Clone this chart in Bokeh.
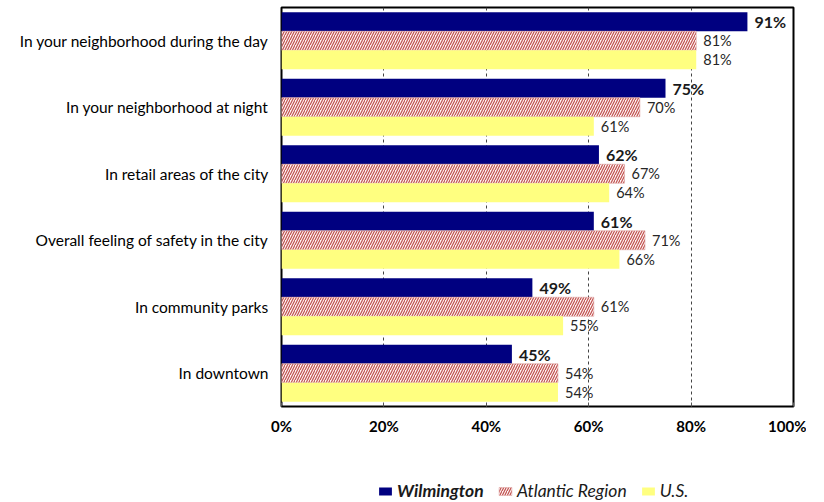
from bokeh.plotting import figure
from bokeh.layouts import column
from bokeh.models import (FactorRange, FixedTicker, PrintfTickFormatter, Legend, LegendItem,
                          ColumnDataSource, Range1d)
from bokeh.transform import dodge
from bokeh.core.properties import value
from bokeh.embed import file_html
from bokeh.resources import INLINE

categories = ["In your neighborhood during the day", "In your neighborhood at night",
              "In retail areas of the city", "Overall feeling of safety in the city",
              "In community parks", "In downtown"]
wilmington = [91, 75, 62, 61, 49, 45]
atlantic = [81, 70, 67, 71, 61, 54]
us = [81, 61, 64, 66, 55, 54]
x_ticks = [0, 20, 40, 60, 80, 100]
series_names = ["Wilmington", "Atlantic Region", "U.S."]

FONT = "Lato"
C_WIL = "#000080"
C_US = "#ffff80"
A_STYLE = dict(fill_color="#fdf3f3", line_color="#e0a8a6", line_width=0.6,
               hatch_pattern="right_diagonal_line", hatch_color="#c0504d",
               hatch_scale=5, hatch_weight=1.2)

src = ColumnDataSource(dict(
    cat=categories, wil=wilmington, atl=atlantic, us=us,
    wil_lbl=[f"{v}%" for v in wilmington],
    atl_lbl=[f"{v}%" for v in atlantic],
    us_lbl=[f"{v}%" for v in us],
))

p = figure(width=806, height=480, output_backend="svg", toolbar_location=None,
           y_range=FactorRange(factors=categories[::-1], range_padding=0),
           x_range=(0, 100),
           min_border_left=281, min_border_right=13, min_border_top=7, min_border_bottom=74)

bh = 0.286
p.hbar(y=dodge("cat", bh, range=p.y_range), right="wil", height=bh, left=0, source=src,
       fill_color=C_WIL, line_color=None)
p.hbar(y=dodge("cat", 0, range=p.y_range), right="atl", height=bh, left=0, source=src, **A_STYLE)
p.hbar(y=dodge("cat", -bh, range=p.y_range), right="us", height=bh, left=0, source=src,
       fill_color=C_US, line_color=None)

p.text(x="wil", y=dodge("cat", bh, range=p.y_range), text="wil_lbl", source=src,
       x_offset=7, text_baseline="middle", text_align="left",
       text_font=value(FONT), text_font_size="16px", text_font_style="bold", text_color="#1a1a1a")
p.text(x="atl", y=dodge("cat", 0, range=p.y_range), text="atl_lbl", source=src,
       x_offset=7, text_baseline="middle", text_align="left",
       text_font=value(FONT), text_font_size="14.5px", text_color="#262626")
p.text(x="us", y=dodge("cat", -bh, range=p.y_range), text="us_lbl", source=src,
       x_offset=7, text_baseline="middle", text_align="left",
       text_font=value(FONT), text_font_size="14.5px", text_color="#262626")

# axes
p.xaxis.ticker = FixedTicker(ticks=x_ticks)
p.xaxis.formatter = PrintfTickFormatter(format="%d%%")
p.xaxis.major_label_text_font = FONT
p.xaxis.major_label_text_font_size = "15px"
p.xaxis.major_label_text_font_style = "bold"
p.xaxis.major_label_text_color = "black"
p.xaxis.major_label_standoff = 10
p.xaxis.major_tick_in = 4
p.xaxis.major_tick_out = 0
p.xaxis.major_tick_line_color = "#555555"
p.xaxis.minor_tick_line_color = None
p.xaxis.axis_line_color = None

p.yaxis.major_label_text_font = FONT
p.yaxis.major_label_text_font_size = "15.5px"
p.yaxis.major_label_text_color = "black"
p.yaxis.major_label_standoff = 7
p.yaxis.major_tick_line_color = None
p.yaxis.minor_tick_line_color = None
p.yaxis.axis_line_color = None

p.ygrid.grid_line_color = None
p.xgrid.ticker = FixedTicker(ticks=x_ticks[1:-1])
p.xgrid.grid_line_color = "#444444"
p.xgrid.grid_line_dash = "3 3"
p.xgrid.grid_line_width = 1

p.outline_line_color = "black"
p.outline_line_width = 2
p.outline_line_alpha = 1

# legend strip (separate small figure, frame aligned with the chart's frame)
lg = figure(width=806, height=21, output_backend="svg", toolbar_location=None,
            x_range=Range1d(0, 1), y_range=Range1d(0, 1),
            min_border_left=281, min_border_right=13, min_border_top=0, min_border_bottom=0)
lg.axis.visible = False
lg.grid.visible = False
lg.outline_line_color = None
# a single point placed outside the visible range, only so the legend swatches are drawn
hidden = ColumnDataSource(dict(x=[5], y=[5]))
g_w = lg.rect(x="x", y="y", width=0.1, height=0.1, source=hidden, fill_color=C_WIL, line_color=None)
g_a = lg.rect(x="x", y="y", width=0.1, height=0.1, source=hidden, **A_STYLE)
g_u = lg.rect(x="x", y="y", width=0.1, height=0.1, source=hidden, fill_color=C_US, line_color=None)

common = dict(orientation="horizontal", label_text_font=FONT, label_text_font_size="17.5px",
              glyph_width=16, glyph_height=10, label_standoff=4, padding=0, margin=0,
              border_line_color=None, background_fill_alpha=0, label_text_color="#1a1a1a")
leg1 = Legend(items=[LegendItem(label=series_names[0], renderers=[g_w])],
              location=(96, 0), label_text_font_style="bold italic", **common)
leg2 = Legend(items=[LegendItem(label=series_names[1], renderers=[g_a]),
                     LegendItem(label=series_names[2], renderers=[g_u])],
              location=(216, 0), spacing=13, label_text_font_style="italic", **common)
lg.add_layout(leg1, "center")
lg.add_layout(leg2, "center")

layout = column(p, lg, spacing=0)
open("out.html", "w").write(file_html(layout, INLINE))
